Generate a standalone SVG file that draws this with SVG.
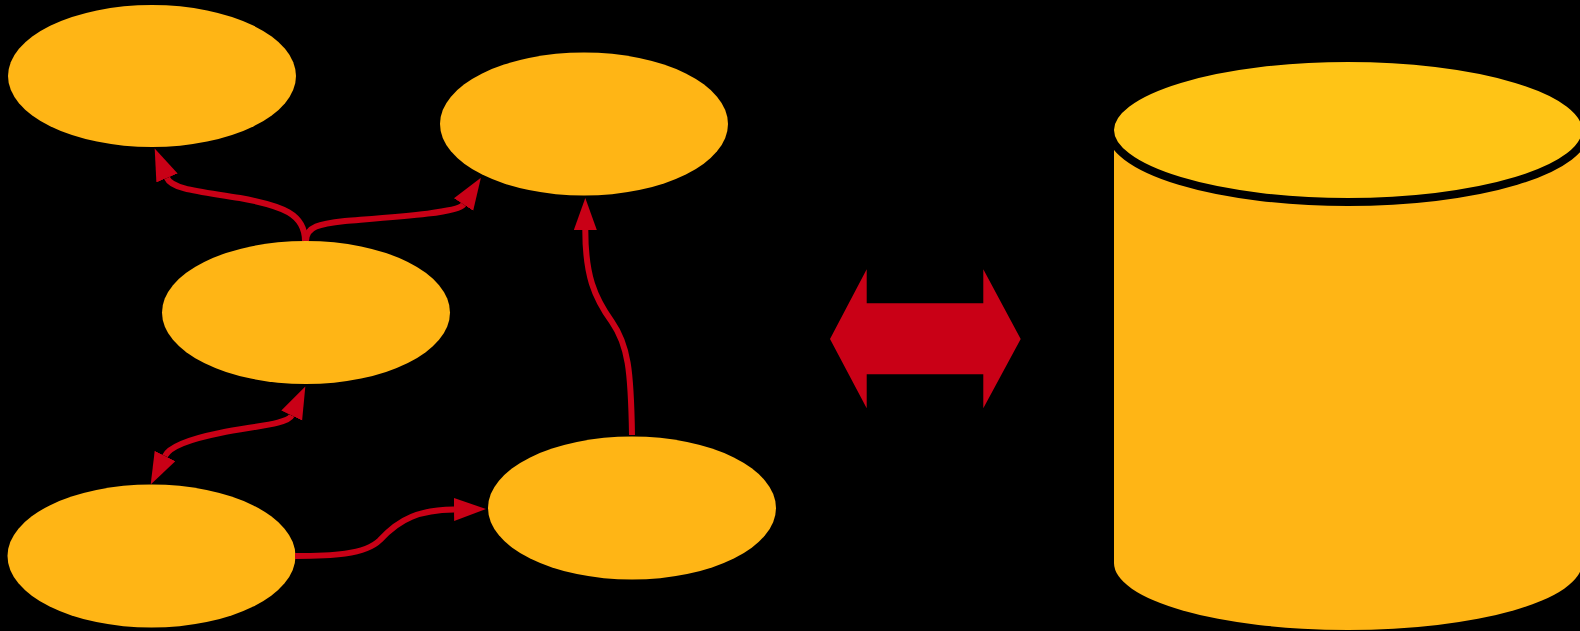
<svg xmlns="http://www.w3.org/2000/svg" width="1580" height="631" viewBox="0 0 1580 631">
<style>
.node{fill:#FFB515;stroke:none}
.conn{fill:none;stroke:#C90016;stroke-width:6}
.big{fill:#C90016}
</style>
<defs>
<marker id="ah" markerUnits="userSpaceOnUse" markerWidth="33" markerHeight="24" refX="0" refY="11.5" orient="auto-start-reverse" viewBox="0 0 33 24">
<path d="M0,0 L32,11.5 L0,23 z" fill="#C90016"/>
</marker>
</defs>
<rect width="1580" height="631" fill="#000"/>
<g id="node-a"><ellipse class="node" cx="152" cy="76" rx="144" ry="71"/></g>
<g id="node-b"><ellipse class="node" cx="584" cy="124" rx="144" ry="71.5"/></g>
<g id="node-c"><ellipse class="node" cx="306" cy="312.5" rx="144" ry="71.5"/></g>
<g id="node-d"><ellipse class="node" cx="151.5" cy="556" rx="144" ry="71.5"/></g>
<g id="node-e"><ellipse class="node" cx="632" cy="508" rx="144" ry="71.5"/></g>
<g id="database">
<path class="node" d="M1114,140 L1114,563 A234,67 0 0 0 1582,563 L1582,140 z"/>
<ellipse cx="1348" cy="130" rx="238" ry="72" fill="#FFC416" stroke="#000" stroke-width="8"/>
</g>
<g id="connectors">
<path class="conn" d="M305,241 C305,214 283,206 240,198 C205,192 172,190 167,178" marker-end="url(#ah)"/>
<path class="conn" d="M306,241 C306,226 320,224 345,221 C395,217 458,213 463.5,204.5" marker-end="url(#ah)"/>
<path class="conn" d="M165,456 C169,448 185,440 220,433 C255,426 287.7,424 291.7,415.5" marker-start="url(#ah)" marker-end="url(#ah)"/>
<path class="conn" d="M295,556 C330,556 365,555 380,540 C400,518 420,510 454,509.5" marker-end="url(#ah)"/>
<path class="conn" d="M632,435 C631,370 628,345 612,322 C594,297 585.3,275 585.3,230" marker-end="url(#ah)"/>
<polygon class="big" points="830,339 866.7,269.3 866.7,303.3 983.3,303.3 983.3,269.3 1020.7,339 983.3,408.3 983.3,374.3 866.7,374.3 866.7,408.3"/>
</g>
</svg>
